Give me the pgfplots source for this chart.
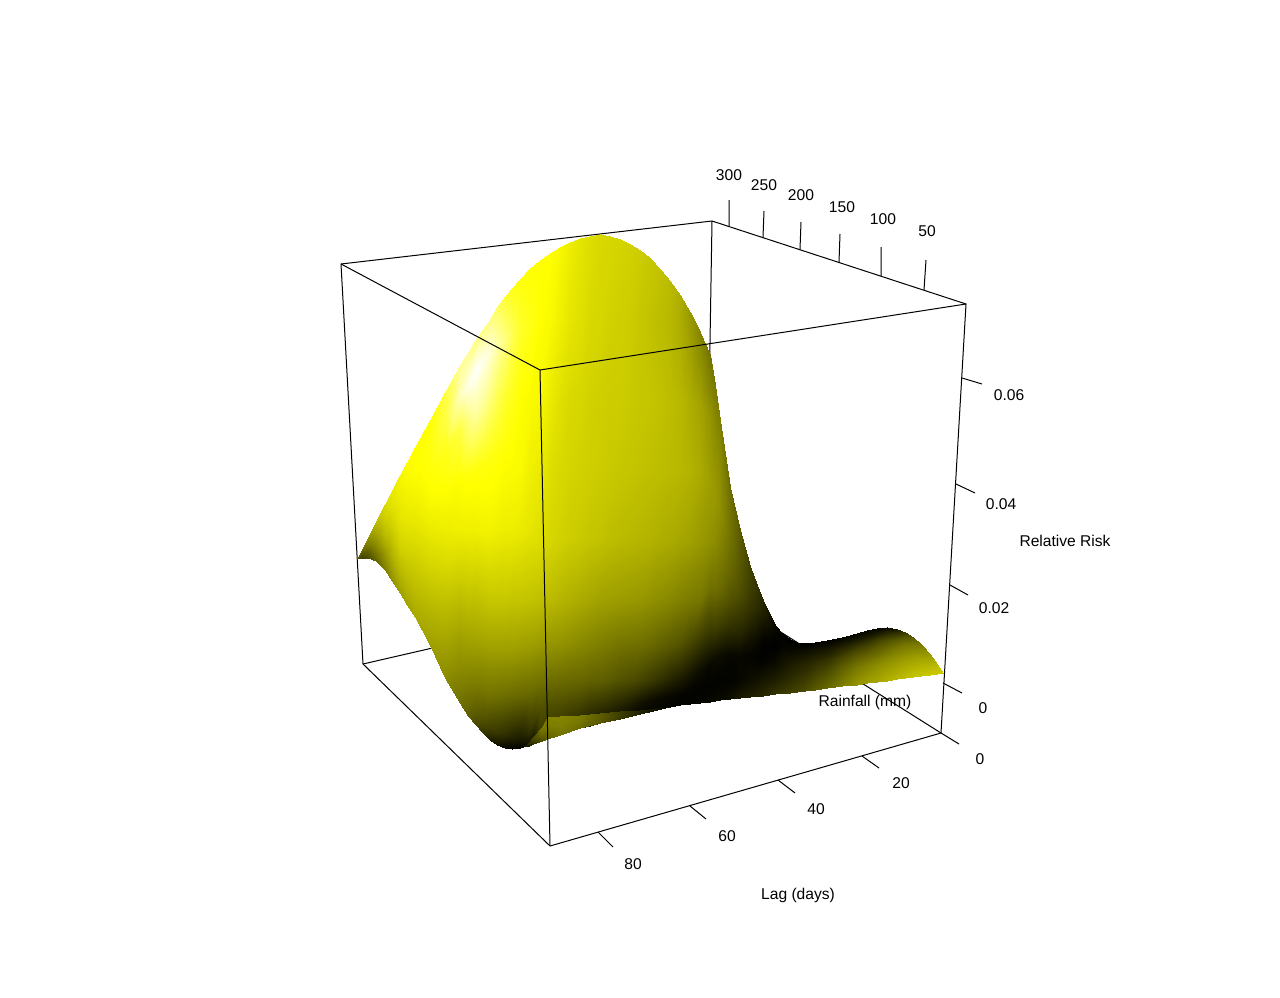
\documentclass[border=0pt]{standalone}
\usepackage{fontspec}
\setmainfont{Liberation Sans}
\usepackage{pgfplots}
\usepackage{pgfplotstable}
\pgfplotsset{compat=1.18}

% surface read off in image pixels: one line per column, ten vertices top to bottom (x y shade)
\pgfplotstableread[row sep=\\]{
x y s\\
357 558.5 .3\\ 357 558.6 .3\\ 357 558.7 .3\\ 357 558.8 .3\\ 357 558.85 .3\\ 357 558.9 .3\\ 357 558.95 .3\\ 357 559 .3\\ 357 559.05 .3\\ 357 559.1 .3\\
362 549 .45\\ 362 550 .42\\ 362 551 .4\\ 362 552 .38\\ 362 553 .36\\ 362 554 .33\\ 362 555 .3\\ 362 556 .28\\ 362 557 .27\\ 362 558 .26\\
368 538 .58\\ 368 540 .55\\ 368 542 .52\\ 368 544 .5\\ 368 546 .47\\ 368 548 .44\\ 368 550 .4\\ 368 553 .36\\ 368 556 .32\\ 368 557.5 .3\\
376 521 .74\\ 376 525 .72\\ 376 529 .68\\ 376 533 .65\\ 376 537 .62\\ 376 541 .58\\ 376 545 .55\\ 376 550 .5\\ 376 556 .44\\ 376 561 .4\\
385 504 .86\\ 385 511 .84\\ 385 518 .82\\ 385 525 .78\\ 385 532 .75\\ 385 539 .71\\ 385 546 .66\\ 385 553 .6\\ 385 562 .55\\ 385 570 .5\\
392 490 .92\\ 392 499 .9\\ 392 508 .88\\ 392 517 .85\\ 392 526 .82\\ 392 535 .78\\ 392 545 .74\\ 392 556 .7\\ 392 569 .63\\ 392 581 .57\\
400 475 .96\\ 400 488 .95\\ 400 503 .92\\ 400 518 .9\\ 400 533 .86\\ 400 548 .82\\ 400 562 .76\\ 400 575 .71\\ 400 586 .66\\ 400 593 .62\\
407 462 1.0\\ 407 478 .98\\ 407 496 .95\\ 407 514 .92\\ 407 532 .88\\ 407 550 .83\\ 407 566 .78\\ 407 582 .73\\ 407 596 .68\\ 407 605 .64\\
415 447 1.0\\ 415 468 1.0\\ 415 490 .97\\ 415 510 .93\\ 415 530 .89\\ 415 550 .84\\ 415 570 .79\\ 415 590 .74\\ 415 607 .69\\ 415 617 .66\\
430 420 1.0\\ 430 445 1.03\\ 430 470 1.02\\ 430 500 .98\\ 430 530 .92\\ 430 560 .85\\ 430 590 .77\\ 430 615 .7\\ 430 635 .65\\ 430 645 .62\\
445 392 1.15\\ 445 420 1.15\\ 445 450 1.06\\ 445 490 1.0\\ 445 530 .93\\ 445 570 .84\\ 445 610 .73\\ 445 640 .65\\ 445 665 .58\\ 445 678 .55\\
460 365 1.35\\ 460 395 1.45\\ 460 430 1.15\\ 460 480 1.0\\ 460 530 .94\\ 460 580 .8\\ 460 630 .65\\ 460 670 .54\\ 460 695 .46\\ 460 703 .43\\
468 352 1.35\\ 468 385 1.55\\ 468 420 1.3\\ 468 475 1.02\\ 468 530 .94\\ 468 585 .8\\ 468 635 .65\\ 468 675 .52\\ 468 707 .4\\ 468 716 .37\\
475 341 1.3\\ 475 370 1.6\\ 475 410 1.4\\ 475 470 1.02\\ 475 530 .94\\ 475 590 .78\\ 475 640 .64\\ 475 685 .48\\ 475 714 .35\\ 475 724 .28\\
483 329 1.3\\ 483 360 1.55\\ 483 405 1.35\\ 483 465 1.03\\ 483 530 .95\\ 483 595 .78\\ 483 645 .63\\ 483 690 .46\\ 483 722 .3\\ 483 733 .2\\
490 319 1.3\\ 490 350 1.5\\ 490 400 1.28\\ 490 460 1.03\\ 490 530 .95\\ 490 600 .78\\ 490 650 .62\\ 490 695 .45\\ 490 728 .25\\ 490 740 .12\\
497 307 1.22\\ 497 345 1.4\\ 497 400 1.18\\ 497 460 1.02\\ 497 530 .94\\ 497 600 .78\\ 497 650 .62\\ 497 695 .44\\ 497 732 .22\\ 497 745 .07\\
505 296 1.12\\ 505 340 1.3\\ 505 400 1.1\\ 505 460 1.0\\ 505 530 .93\\ 505 600 .78\\ 505 650 .62\\ 505 695 .43\\ 505 735 .18\\ 505 748 .03\\
512 288 1.05\\ 512 335 1.2\\ 512 400 1.05\\ 512 465 .99\\ 512 530 .93\\ 512 600 .77\\ 512 650 .62\\ 512 695 .42\\ 512 737 .14\\ 512 749 .01\\
520 279 1.02\\ 520 330 1.1\\ 520 400 1.0\\ 520 470 .98\\ 520 530 .92\\ 520 600 .77\\ 520 650 .61\\ 520 695 .41\\ 520 737 .12\\ 520 748 .02\\
530 268 1.0\\ 530 325 1.05\\ 530 400 .98\\ 530 470 .94\\ 530 530 .9\\ 530 600 .76\\ 530 650 .6\\ 530 695 .4\\ 530 730 .2\\ 530 745 .06\\
540 260 1.0\\ 540 320 1.0\\ 540 400 .97\\ 540 470 .92\\ 540 540 .87\\ 540 600 .75\\ 540 645 .6\\ 540 680 .45\\ 540 705 .33\\ 540 741 .2\\
550 253 1.0\\ 550 320 .98\\ 550 400 .92\\ 550 470 .87\\ 550 540 .84\\ 550 600 .73\\ 550 645 .58\\ 550 680 .43\\ 550 705 .31\\ 550 738 .2\\
560 247 .97\\ 560 320 .94\\ 560 400 .88\\ 560 470 .85\\ 560 540 .82\\ 560 600 .71\\ 560 645 .57\\ 560 680 .42\\ 560 705 .3\\ 560 735 .18\\
570 242 .93\\ 570 320 .9\\ 570 400 .85\\ 570 470 .83\\ 570 540 .8\\ 570 600 .69\\ 570 645 .55\\ 570 680 .41\\ 570 705 .28\\ 570 731 .15\\
580 238 .9\\ 580 320 .88\\ 580 400 .84\\ 580 470 .82\\ 580 540 .79\\ 580 600 .67\\ 580 645 .53\\ 580 680 .4\\ 580 705 .26\\ 580 728 .13\\
590 235.5 .87\\ 590 320 .85\\ 590 400 .82\\ 590 470 .81\\ 590 540 .77\\ 590 600 .65\\ 590 645 .51\\ 590 680 .38\\ 590 705 .22\\ 590 726 .1\\
600 234 .85\\ 600 320 .84\\ 600 400 .81\\ 600 470 .8\\ 600 540 .76\\ 600 600 .63\\ 600 645 .49\\ 600 680 .37\\ 600 705 .2\\ 600 723 .08\\
610 236 .84\\ 610 320 .82\\ 610 400 .8\\ 610 470 .79\\ 610 540 .74\\ 610 600 .62\\ 610 645 .47\\ 610 680 .35\\ 610 705 .17\\ 610 721 .06\\
620 239 .83\\ 620 320 .81\\ 620 400 .8\\ 620 470 .78\\ 620 540 .73\\ 620 600 .61\\ 620 645 .45\\ 620 680 .32\\ 620 705 .14\\ 620 719 .05\\
630 244 .82\\ 630 320 .8\\ 630 400 .79\\ 630 470 .77\\ 630 540 .72\\ 630 600 .6\\ 630 645 .44\\ 630 680 .3\\ 630 705 .1\\ 630 716 .04\\
640 250 .8\\ 640 320 .78\\ 640 400 .78\\ 640 470 .76\\ 640 540 .71\\ 640 600 .59\\ 640 645 .43\\ 640 680 .27\\ 640 703 .07\\ 640 714 .03\\
650 258 .78\\ 650 320 .76\\ 650 400 .77\\ 650 470 .75\\ 650 540 .7\\ 650 600 .57\\ 650 645 .41\\ 650 680 .23\\ 650 700 .05\\ 650 711 .02\\
660 269 .76\\ 660 320 .74\\ 660 400 .76\\ 660 470 .74\\ 660 540 .68\\ 660 600 .55\\ 660 645 .38\\ 660 680 .19\\ 660 698 .04\\ 660 709 .02\\
670 281 .73\\ 670 325 .72\\ 670 400 .74\\ 670 470 .73\\ 670 540 .67\\ 670 600 .53\\ 670 645 .35\\ 670 680 .14\\ 670 696 .03\\ 670 707 .01\\
680 295 .68\\ 680 330 .68\\ 680 400 .72\\ 680 470 .72\\ 680 540 .65\\ 680 600 .5\\ 680 645 .32\\ 680 680 .1\\ 680 695 .02\\ 680 705 .01\\
690 312 .6\\ 690 340 .62\\ 690 400 .68\\ 690 470 .7\\ 690 540 .63\\ 690 600 .48\\ 690 640 .29\\ 690 675 .08\\ 690 692 .01\\ 690 704 .01\\
700 332 .52\\ 700 350 .55\\ 700 405 .64\\ 700 470 .67\\ 700 540 .6\\ 700 600 .46\\ 700 635 .26\\ 700 670 .05\\ 700 690 .01\\ 700 703 .02\\
710 355 .45\\ 710 378 .5\\ 710 415 .58\\ 710 480 .62\\ 710 540 .57\\ 710 590 .43\\ 710 630 .23\\ 710 665 .03\\ 710 685 .01\\ 710 702 .03\\
715 385 .47\\ 715 400 .5\\ 715 430 .55\\ 715 495 .6\\ 715 545 .54\\ 715 590 .43\\ 715 628 .24\\ 715 658 .05\\ 715 681 .01\\ 715 701 .04\\
720 420 .5\\ 720 440 .52\\ 720 470 .55\\ 720 510 .56\\ 720 550 .5\\ 720 590 .41\\ 720 625 .24\\ 720 655 .05\\ 720 680 .01\\ 720 700 .04\\
730 487 .42\\ 730 500 .44\\ 730 520 .45\\ 730 545 .44\\ 730 570 .4\\ 730 600 .32\\ 730 625 .2\\ 730 655 .03\\ 730 680 .01\\ 730 699 .06\\
740 530 .35\\ 740 540 .35\\ 740 555 .35\\ 740 575 .33\\ 740 595 .3\\ 740 615 .22\\ 740 635 .14\\ 740 655 .03\\ 740 680 .03\\ 740 698 .1\\
750 566 .25\\ 750 572 .25\\ 750 582 .25\\ 750 595 .23\\ 750 608 .2\\ 750 622 .15\\ 750 637 .08\\ 750 655 .02\\ 750 678 .05\\ 750 697 .12\\
757 585 .2\\ 757 590 .2\\ 757 597 .19\\ 757 608 .17\\ 757 618 .13\\ 757 630 .09\\ 757 641 .04\\ 757 658 .01\\ 757 678 .06\\ 757 696 .14\\
763 600 .15\\ 763 606 .14\\ 763 612 .13\\ 763 620 .1\\ 763 628 .06\\ 763 636 .03\\ 763 645 .0\\ 763 660 .01\\ 763 678 .08\\ 763 695.5 .16\\
769 613 .08\\ 769 618 .08\\ 769 623 .07\\ 769 629 .05\\ 769 635 .03\\ 769 642 .01\\ 769 650 .01\\ 769 662 .03\\ 769 679 .1\\ 769 695 .18\\
775 625 .03\\ 775 629 .03\\ 775 633 .02\\ 775 637 .01\\ 775 642 .0\\ 775 648 .0\\ 775 655 .02\\ 775 665 .05\\ 775 680 .12\\ 775 694 .2\\
782 633 .01\\ 782 636 .01\\ 782 640 .01\\ 782 644 .01\\ 782 649 .03\\ 782 654 .04\\ 782 661 .07\\ 782 670 .1\\ 782 682 .16\\ 782 693 .22\\
790 639 .0\\ 790 642 .0\\ 790 646 .02\\ 790 650 .03\\ 790 655 .06\\ 790 660 .08\\ 790 667 .12\\ 790 675 .15\\ 790 685 .2\\ 790 692.5 .25\\
797 642 .0\\ 797 645 .01\\ 797 649 .04\\ 797 653 .06\\ 797 658 .09\\ 797 663 .12\\ 797 669 .15\\ 797 677 .19\\ 797 685 .23\\ 797 691.5 .27\\
805 643 .0\\ 805 647 .02\\ 805 651 .06\\ 805 655 .08\\ 805 660 .12\\ 805 665 .15\\ 805 671 .18\\ 805 678 .22\\ 805 685 .26\\ 805 691 .3\\
815 642 .0\\ 815 646 .03\\ 815 651 .08\\ 815 656 .12\\ 815 661 .16\\ 815 666 .2\\ 815 672 .24\\ 815 678 .28\\ 815 684 .32\\ 815 689.5 .35\\
827 640 .0\\ 827 645 .05\\ 827 650 .1\\ 827 655 .14\\ 827 660 .2\\ 827 666 .25\\ 827 672 .3\\ 827 678 .34\\ 827 684 .38\\ 827 688 .4\\
842 636.5 .01\\ 842 642 .07\\ 842 647 .14\\ 842 653 .21\\ 842 658 .28\\ 842 664 .34\\ 842 670 .39\\ 842 676 .43\\ 842 682 .47\\ 842 686 .5\\
857 633 .02\\ 857 638 .08\\ 857 644 .18\\ 857 650 .28\\ 857 656 .35\\ 857 662 .42\\ 857 668 .48\\ 857 674 .52\\ 857 680 .56\\ 857 684.5 .58\\
867 630 .02\\ 867 636 .09\\ 867 642 .21\\ 867 649 .31\\ 867 655 .39\\ 867 661 .46\\ 867 667 .52\\ 867 673 .56\\ 867 679 .6\\ 867 683 .62\\
877 627.5 .02\\ 877 633 .1\\ 877 640 .25\\ 877 647 .35\\ 877 654 .42\\ 877 660 .5\\ 877 666 .56\\ 877 672 .6\\ 877 678 .63\\ 877 682 .65\\
887 627 .03\\ 887 633 .16\\ 887 640 .31\\ 887 647 .4\\ 887 653 .47\\ 887 659 .54\\ 887 665 .59\\ 887 671 .63\\ 887 677 .67\\ 887 680.5 .69\\
897 628.5 .09\\ 897 634 .22\\ 897 640 .36\\ 897 647 .46\\ 897 653 .52\\ 897 659 .58\\ 897 664 .62\\ 897 670 .66\\ 897 675 .7\\ 897 679 .72\\
905 632 .22\\ 905 637 .33\\ 905 642 .43\\ 905 648 .5\\ 905 654 .56\\ 905 659 .61\\ 905 664 .65\\ 905 670 .69\\ 905 674 .72\\ 905 678 .75\\
913 637 .35\\ 913 641 .42\\ 913 645 .48\\ 913 650 .54\\ 913 655 .6\\ 913 660 .64\\ 913 665 .68\\ 913 670 .72\\ 913 674 .75\\ 913 677 .77\\
921 644 .48\\ 921 647 .52\\ 921 651 .56\\ 921 655 .6\\ 921 658 .64\\ 921 662 .67\\ 921 665 .7\\ 921 669 .73\\ 921 673 .76\\ 921 676 .78\\
930 654 .6\\ 930 656 .62\\ 930 658 .64\\ 930 660 .66\\ 930 662 .68\\ 930 664 .7\\ 930 666 .72\\ 930 669 .74\\ 930 672 .77\\ 930 675 .8\\
937 664 .72\\ 937 665 .73\\ 937 666 .74\\ 937 667 .75\\ 937 668 .76\\ 937 669 .76\\ 937 670 .77\\ 937 671 .78\\ 937 672.5 .78\\ 937 674 .8\\
943 672.5 .8\\ 943 672.6 .8\\ 943 672.7 .8\\ 943 672.8 .8\\ 943 672.9 .8\\ 943 673 .8\\ 943 673.1 .8\\ 943 673.2 .8\\ 943 673.3 .8\\ 943 673.4 .8\\
}\surface

% the near fold below the main sheet: three vertices per column
\pgfplotstableread[row sep=\\]{
x y s\\
523 747 .05\\ 523 747.2 .05\\ 523 747.4 .05\\
529 742 .2\\ 529 745 .15\\ 529 746 .1\\
533 737 .3\\ 533 741 .25\\ 533 744 .18\\
542 727 .48\\ 542 733 .42\\ 542 740.5 .3\\
547 717 .52\\ 547 727 .48\\ 547 739 .38\\
560 716 .52\\ 560 725 .5\\ 560 735 .45\\
580 714.5 .48\\ 580 721 .46\\ 580 728 .42\\
600 713 .36\\ 600 718 .36\\ 600 723 .34\\
620 711 .24\\ 620 715 .24\\ 620 719 .22\\
640 709.5 .13\\ 640 711.5 .13\\ 640 714 .12\\
657 707.8 .06\\ 657 708.8 .06\\ 657 709.5 .06\\
673 705.6 .03\\ 673 705.8 .03\\ 673 706 .03\\
}\foldpart

\begin{document}
\begin{tikzpicture}
\useasboundingbox (0,0) rectangle (1280pt,998pt);
\begin{axis}[
    at={(0,0)}, anchor=south west,
    width=1280pt, height=998pt, scale only axis,
    xmin=0, xmax=1280, ymin=0, ymax=998, y dir=reverse,
    hide axis, clip=false,
    colormap={persp}{rgb255(0)=(0,0,0) rgb255(10)=(255,255,0) rgb255(16)=(255,255,255)},
    point meta min=0, point meta max=1.6,
    every axis plot/.append style={line width=1pt},
    nodes={font=\fontsize{15.6}{18}\selectfont, inner sep=0pt},
]
  % back of the box, hidden by the surface
  \addplot[black, line join=round] table {
966 304
712 221
341 264
363 664
706 585
712 221
};
  \addplot[black] table {
941 733
706 585
};

  \addplot[surf, shader=interp, mesh/ordering=x varies, mesh/cols=10, mesh/rows=66,
    point meta=\thisrow{s}] table[x=x, y=y] {\surface};
  \addplot[surf, shader=interp, mesh/ordering=x varies, mesh/cols=3, mesh/rows=12,
    point meta=\thisrow{s}] table[x=x, y=y] {\foldpart};

  % front of the box
  \addplot[black, line join=round] table {
341 264
540 370
966 304
941 733
550 846
363 664
};
  \addplot[black] table {
540 370
550 846
};
  % rainfall ticks
  \addplot[black] table {
729 226
729 200

763 237
764 211

800 249
801 222

839 262
840 234

881 276
881 247

924 290
926 260
};
  % relative risk ticks
  \addplot[black] table {
962 378
982 384

956 484
975 493

950 585
968 595

943 683
962 693
};
  % lag ticks
  \addplot[black] table {
941 733
959 744

862 756
879 768

778 780
795 793

690 806
706 819

598 832
613 847
};

  \node at (axis cs:729,175) {300};
  \node at (axis cs:764,185) {250};
  \node at (axis cs:801,195) {200};
  \node at (axis cs:842,207) {150};
  \node at (axis cs:883,219) {100};
  \node at (axis cs:927,231) {50};
  \node at (axis cs:1009,395) {0.06};
  \node at (axis cs:1001,504) {0.04};
  \node at (axis cs:994,608) {0.02};
  \node at (axis cs:983,708) {0};
  \node at (axis cs:980,759) {0};
  \node at (axis cs:901,783) {20};
  \node at (axis cs:816,809) {40};
  \node at (axis cs:727,836) {60};
  \node at (axis cs:633,864) {80};
  \node at (axis cs:798,895.5) {Lag (days)};
  \node at (axis cs:865,702.5) {Rainfall (mm)};
  \node at (axis cs:1065,541) {Relative Risk};
\end{axis}
\end{tikzpicture}
\end{document}
